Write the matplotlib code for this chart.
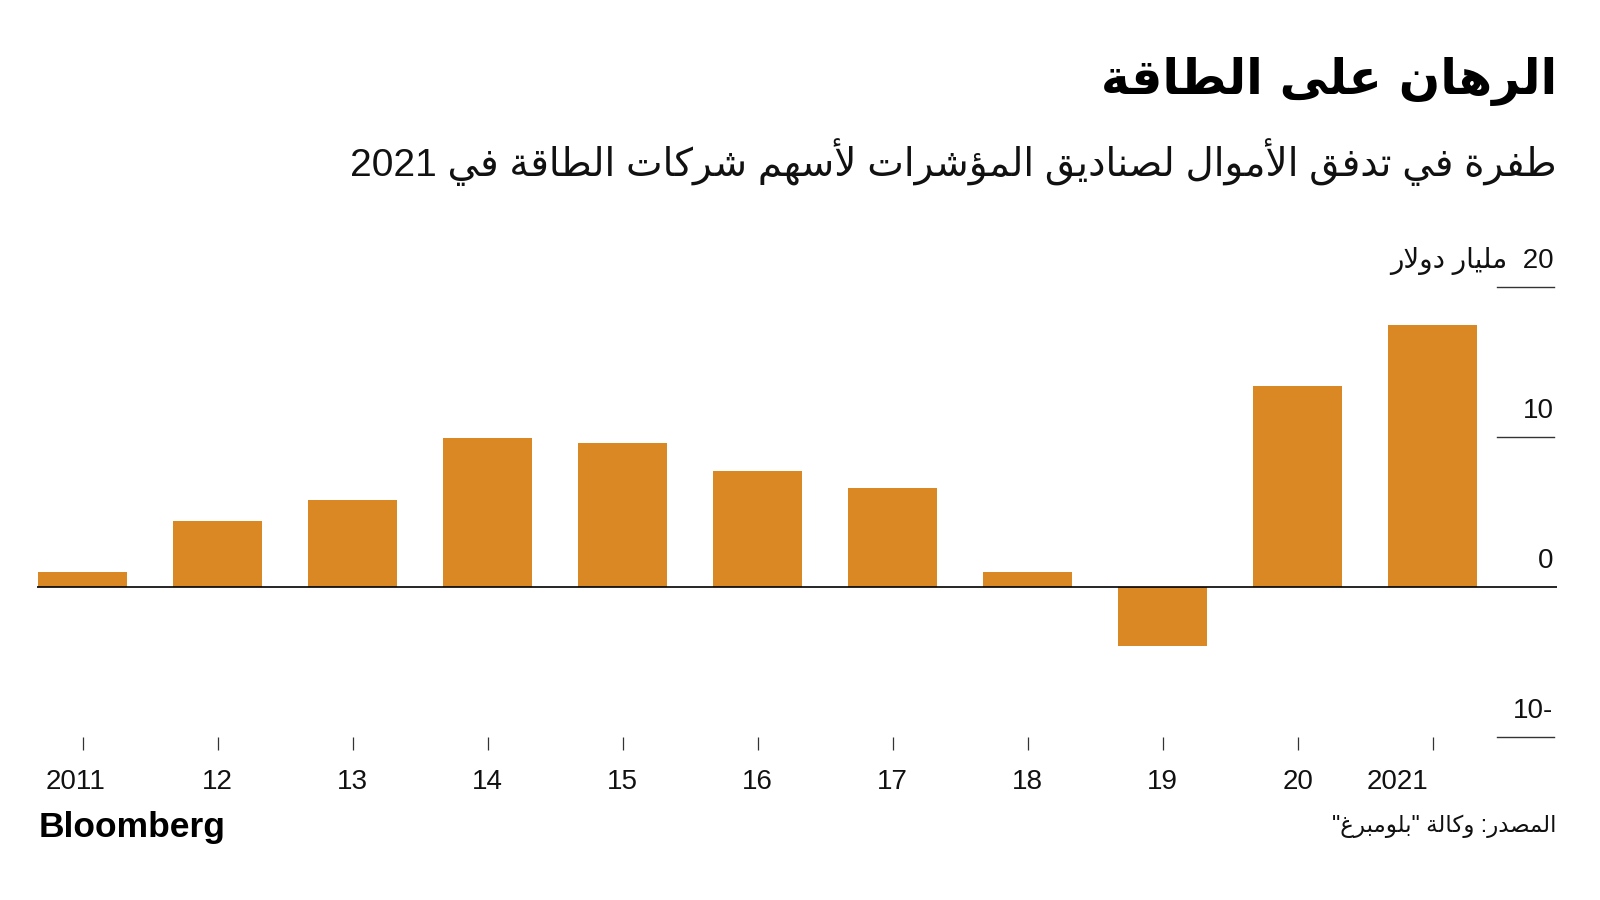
import re
import numpy as np
import matplotlib
matplotlib.use("Agg")
from matplotlib import pyplot as plt
from matplotlib.transforms import ScaledTranslation

years = ["2011", "12", "13", "14", "15", "16", "17", "18", "19", "20", "2021"]
flows = [1.0, 4.4, 5.8, 9.95, 9.6, 7.75, 6.6, 1.0, -3.9, 13.4, 17.5]
ytick_vals = [20, 10, 0, -10]
ytick_labels = ["20  مليار دولار", "10", "0", "10-"]

title = "الرهان على الطاقة"
subtitle = "طفرة في تدفق الأموال لصناديق المؤشرات لأسهم شركات الطاقة في 2021"
source = 'المصدر: وكالة "بلومبرغ"'

# matplotlib has no arabic shaping, so pick the presentation forms by hand
FORMS = {
    'ء': (0xFE80, 1), 'آ': (0xFE81, 2), 'أ': (0xFE83, 2), 'ؤ': (0xFE85, 2),
    'إ': (0xFE87, 2), 'ئ': (0xFE89, 4), 'ا': (0xFE8D, 2), 'ب': (0xFE8F, 4),
    'ة': (0xFE93, 2), 'ت': (0xFE95, 4), 'ث': (0xFE99, 4), 'ج': (0xFE9D, 4),
    'ح': (0xFEA1, 4), 'خ': (0xFEA5, 4), 'د': (0xFEA9, 2), 'ذ': (0xFEAB, 2),
    'ر': (0xFEAD, 2), 'ز': (0xFEAF, 2), 'س': (0xFEB1, 4), 'ش': (0xFEB5, 4),
    'ص': (0xFEB9, 4), 'ض': (0xFEBD, 4), 'ط': (0xFEC1, 4), 'ظ': (0xFEC5, 4),
    'ع': (0xFEC9, 4), 'غ': (0xFECD, 4), 'ف': (0xFED1, 4), 'ق': (0xFED5, 4),
    'ك': (0xFED9, 4), 'ل': (0xFEDD, 4), 'م': (0xFEE1, 4), 'ن': (0xFEE5, 4),
    'ه': (0xFEE9, 4), 'و': (0xFEED, 2), 'ى': (0xFEEF, 2), 'ي': (0xFEF1, 4),
}
LAM_ALEF = {'آ': 0xFEF5, 'أ': 0xFEF7, 'إ': 0xFEF9, 'ا': 0xFEFB}


def ar(text):
    if not any(c in FORMS for c in text):
        return text
    units = []
    i = 0
    while i < len(text):
        c = text[i]
        if c == 'ل' and i + 1 < len(text) and text[i + 1] in LAM_ALEF:
            units.append((LAM_ALEF[text[i + 1]], 2))
            i += 2
            continue
        units.append(FORMS.get(c, (c, 0)))
        i += 1
    out = []
    for k, (b, n) in enumerate(units):
        if n == 0:
            out.append(b)
            continue
        prev = k > 0 and units[k - 1][1] == 4
        nxt = n == 4 and k + 1 < len(units) and units[k + 1][1] > 1
        off = 3 if (prev and nxt) else 1 if prev else 2 if nxt else 0
        if n == 1:
            off = 0
        out.append(chr(b + off))
    tokens = re.findall(r'[0-9A-Za-z.,]+|.', "".join(out))
    return "".join(tokens[::-1])


FAM = ["Liberation Sans", "DejaVu Sans"]
orange = "#D98823"

fig = plt.figure(figsize=(16, 9), dpi=100)
ax = fig.add_axes([0.0229, 0.1808, 0.95, 0.5])

x = np.arange(len(years))
ax.bar(x, flows, width=0.66, color=orange, zorder=2)
ax.axhline(0, color="black", lw=1.2, zorder=3)
for v, lab in zip(ytick_vals, ytick_labels):
    if v != 0:
        ax.axhline(v, xmin=0.9607, xmax=0.998, color="#333333", lw=1.0, clip_on=False)
    ax.annotate(ar(lab), xy=(0.998, v), xycoords=("axes fraction", "data"),
                xytext=(0, 14), textcoords="offset points", ha="right",
                va="baseline", fontsize=20, family=FAM, color="#111111")

ax.set_xlim(-0.341, 10.919)
ax.set_ylim(-10, 20)
ax.set_yticks([])
ax.set_xticks(x)
ax.set_xticklabels(years, fontsize=20, family=FAM, color="#111111")
ax.tick_params(axis="x", length=9.6, width=0.9, color="#333333", pad=13)
labs = ax.get_xticklabels()
labs[0].set_transform(labs[0].get_transform() + ScaledTranslation(-0.07, 0, fig.dpi_scale_trans))
labs[-1].set_transform(labs[-1].get_transform() + ScaledTranslation(-0.35, 0, fig.dpi_scale_trans))
for s in ax.spines.values():
    s.set_visible(False)

fig.text(0.973, 0.9367, ar(title), ha="right", va="top", fontsize=35,
         fontweight="bold", family=["DejaVu Sans"])
fig.text(0.973, 0.8467, ar(subtitle), ha="right", va="top", fontsize=28,
         family=FAM, color="#111111")
fig.text(0.024, 0.0703, "Bloomberg", ha="left", va="baseline", fontsize=25.5,
         fontweight="bold", family=["Liberation Sans"])
fig.text(0.973, 0.0815, ar(source), ha="right", va="center", fontsize=16.5,
         family=FAM, color="#111111")

fig.savefig("out.png", dpi=100, facecolor="white")
